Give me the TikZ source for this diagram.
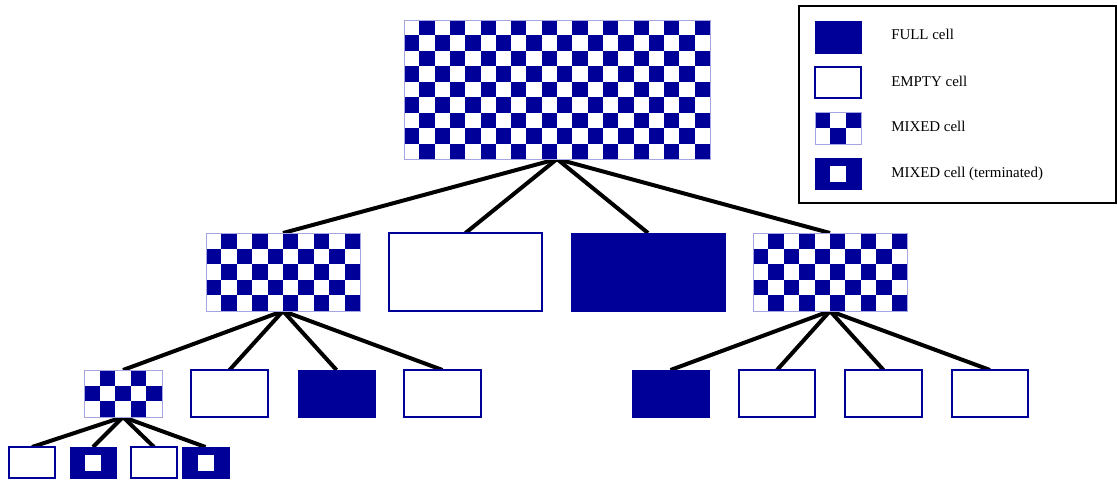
\documentclass[tikz,border=0pt]{standalone}
\usepackage{fontspec}
\setmainfont{Liberation Serif}
\usetikzlibrary{fit,calc,backgrounds}
\definecolor{cellblue}{RGB}{0,0,153}
\definecolor{edgeblue}{RGB}{165,165,225}

\begin{document}
\begin{tikzpicture}[x=0.75pt,y=-0.75pt,
  cellbase/.style={inner sep=0pt, outer sep=0pt},
  emptycell/.style={cellbase, draw=cellblue, fill=white, line width=1.1pt},
  fullcell/.style={cellbase, draw=cellblue, fill=cellblue, line width=0.6pt},
  % checkerboard cell: last column index, last row index, parity offset
  mixedcell/.style n args={3}{cellbase, draw=edgeblue, line width=0.6pt, fill=white,
    path picture={
      \foreach \i in {0,...,#1}{
        \foreach \j in {0,...,#2}{
          \pgfmathtruncatemacro\cellpar{mod(\i+\j+#3,2)}
          \ifnum\cellpar=0
            \fill[cellblue] let \p1=(path picture bounding box.north west),
                                \p2=(path picture bounding box.south east) in
              ({\x1+\i*(\x2-\x1)/(#1+1)},{\y1+\j*(\y2-\y1)/(#2+1)}) rectangle
              ({\x1+(\i+1)*(\x2-\x1)/(#1+1)},{\y1+(\j+1)*(\y2-\y1)/(#2+1)});
          \fi
        }
      }
    }},
  termcell/.style={fullcell},
  hole/.style={fill=white, inner sep=0pt, minimum size=12pt},
  link/.style={line width=3pt, black},
  legendtext/.style={anchor=base west, inner sep=0pt, font=\fontsize{11.2}{13}\selectfont}
]
\useasboundingbox (0,0) rectangle (1117,479);

% root
\node[mixedcell={19}{8}{1}, fit={(404,20) (710,159)}] (root) {};

% second level
\node[mixedcell={9}{4}{1}, fit={(206,233) (360,311)}] (a) {};
\node[emptycell, fit={(389,233) (542,311)}] (b) {};
\node[fullcell, fit={(571,233) (725,311)}] (c) {};
\node[mixedcell={9}{4}{1}, fit={(753,233) (907,311)}] (d) {};

% third level
\node[mixedcell={4}{2}{1}, fit={(84,370) (162,417)}] (a1) {};
\node[emptycell, fit={(191,370) (268,417)}] (a2) {};
\node[fullcell, fit={(298,370) (375,417)}] (a3) {};
\node[emptycell, fit={(404,370) (481,417)}] (a4) {};
\node[fullcell, fit={(632,370) (709,417)}] (d1) {};
\node[emptycell, fit={(739,370) (815,417)}] (d2) {};
\node[emptycell, fit={(845,370) (922,417)}] (d3) {};
\node[emptycell, fit={(952,370) (1028,417)}] (d4) {};

% fourth level
\node[emptycell, fit={(9,447) (55,478)}] (a11) {};
\node[termcell, fit={(70,447) (116,478)}] (a12) {};
\node[hole] (h12) at (a12.center) {};
\node[emptycell, fit={(131,447) (177,478)}] (a13) {};
\node[termcell, fit={(182,447) (229,478)}] (a14) {};
\node[hole] (h14) at (a14.center) {};

% connectors
\begin{scope}[on background layer]
  \draw[link] (root.south) -- (a.north);
  \draw[link] (root.south) -- (b.north);
  \draw[link] (root.south) -- (c.north);
  \draw[link] (root.south) -- (d.north);
  \draw[link] (a.south) -- (a1.north);
  \draw[link] (a.south) -- (a2.north);
  \draw[link] (a.south) -- (a3.north);
  \draw[link] (a.south) -- (a4.north);
  \draw[link] (d.south) -- (d1.north);
  \draw[link] (d.south) -- (d2.north);
  \draw[link] (d.south) -- (d3.north);
  \draw[link] (d.south) -- (d4.north);
  \draw[link] (a1.south) -- (a11.north);
  \draw[link] (a1.south) -- (a12.north);
  \draw[link] (a1.south) -- (a13.north);
  \draw[link] (a1.south) -- (a14.north);
\end{scope}

% legend
\node[draw=black, line width=0.9pt, inner sep=0pt, fit={(799,6) (1116,203)}] (legend) {};
\node[fullcell, fit={(815,21) (861,53)}] (kfull) {};
\node[emptycell, fit={(815,67) (861,98)}] (kempty) {};
\node[mixedcell={2}{1}{0}, fit={(815,112) (861,144)}] (kmixed) {};
\node[termcell, fit={(815,158) (861,189)}] (kterm) {};
\node[hole] (khole) at (kterm.center) {};
\node[legendtext] (tfull) at (891,39.5) {FULL cell};
\node[legendtext] (tempty) at (891,86) {EMPTY cell};
\node[legendtext] (tmixed) at (891,131) {MIXED cell};
\node[legendtext] (tterm) at (891,177) {MIXED cell (terminated)};
\end{tikzpicture}
\end{document}
